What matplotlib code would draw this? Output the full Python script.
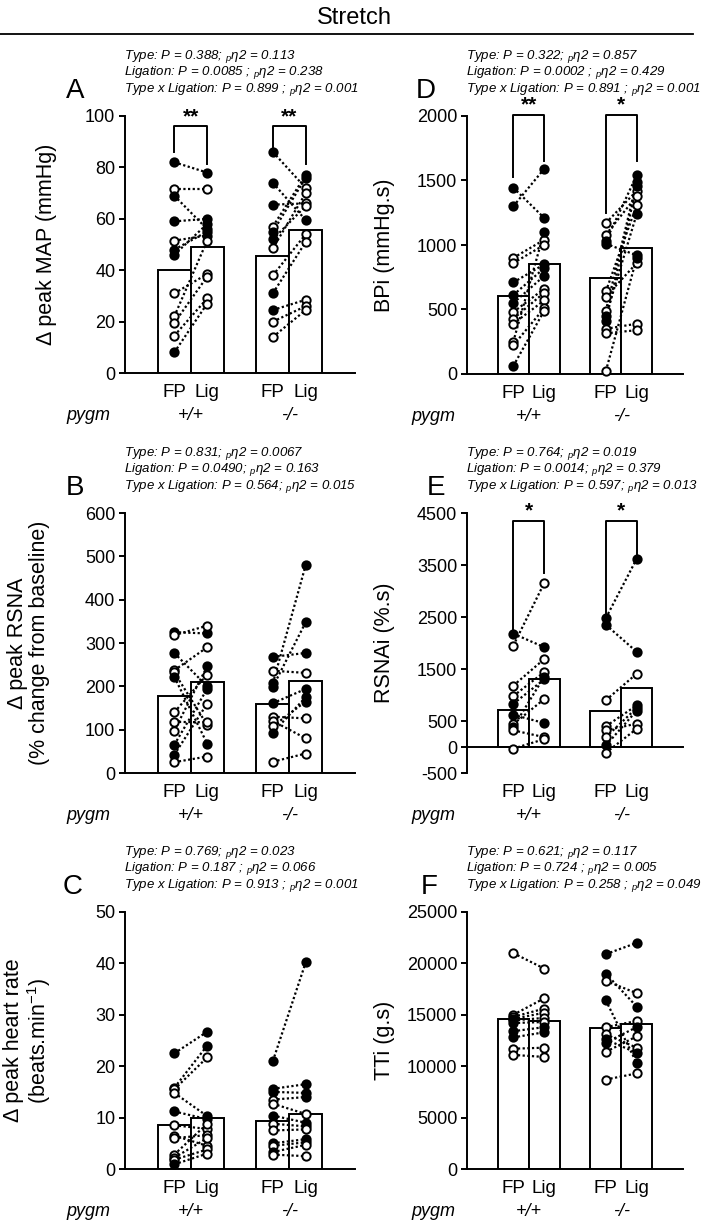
import numpy as np
import matplotlib
matplotlib.use('Agg')
import matplotlib.pyplot as plt
from matplotlib.lines import Line2D

plt.rcParams['font.family'] = ['Liberation Sans', 'DejaVu Sans']
plt.rcParams['mathtext.fontset'] = 'custom'
plt.rcParams['mathtext.rm'] = 'Liberation Sans'
plt.rcParams['mathtext.it'] = 'Liberation Sans:italic'
plt.rcParams['axes.unicode_minus'] = False

# groups on the x axis
groups = ['FP', 'Lig', 'FP', 'Lig']
genotypes = ['+/+', '-/-']

# ---- A : delta peak MAP (mmHg)
a_means = [40, 49, 45.5, 55.5]
a_wt_fp = [82, 71.5, 69, 59, 51.5, 48, 46, 31, 22, 19.5, 14.5, 8]
a_wt_fp_f = [1, 0, 1, 1, 0, 1, 1, 0, 0, 0, 0, 1]
a_wt_lig = [78, 71.5, 56, 60, 53.5, 55, 58, 38.5, 51.5, 37.5, 29, 27]
a_wt_lig_f = [1, 0, 1, 1, 1, 1, 1, 0, 0, 0, 0, 0]
a_ko_fp = [86, 74, 65.5, 57, 55, 52, 48.5, 38, 31, 24.5, 20, 14]
a_ko_fp_f = [1, 1, 1, 0, 1, 1, 0, 0, 1, 1, 0, 0]
a_ko_lig = [72, 59.5, 66, 77, 76, 65, 70, 54, 51, 28.5, 26, 24.5]
a_ko_lig_f = [0, 1, 0, 1, 1, 0, 0, 0, 0, 0, 0, 0]

# ---- B : delta peak RSNA (% change from baseline)
b_means = [178, 210, 159, 213]
b_wt_fp = [325, 318, 277, 237, 232, 222, 140, 118, 98, 65, 42, 25]
b_wt_fp_f = [1, 0, 1, 0, 0, 1, 0, 0, 0, 1, 1, 0]
b_wt_lig = [322, 340, 200, 290, 111, 68, 227, 117, 246, 194, 160, 38]
b_wt_lig_f = [1, 0, 1, 0, 0, 1, 0, 0, 1, 1, 0, 0]
b_ko_fp = [268, 236, 207, 199, 161, 130, 120, 108, 93, 26]
b_ko_fp_f = [1, 0, 1, 1, 1, 0, 0, 0, 1, 0]
b_ko_lig = [277, 231, 480, 348, 194, 126, 80, 165, 175, 45]
b_ko_lig_f = [1, 0, 1, 1, 1, 0, 0, 1, 1, 0]

# ---- C : delta peak heart rate
c_means = [8.6, 9.9, 9.25, 10.7]
c_wt_fp = [22.5, 15.8, 15.5, 14.8, 11.2, 8.5, 6.5, 6.0, 2.8, 2.2, 1.8, 0.9]
c_wt_fp_f = [1, 1, 0, 0, 1, 0, 0, 0, 0, 0, 0, 1]
c_wt_lig = [26.7, 24, 21.7, 10.3, 9.7, 7.8, 4.5, 6.6, 8.8, 6.0, 3.8, 3.0]
c_wt_lig_f = [1, 1, 0, 1, 1, 0, 0, 0, 0, 0, 0, 0]
c_ko_fp = [21, 15.6, 15, 13.5, 12.7, 10.4, 8.8, 7.5, 5, 4.5, 3.3, 2.8]
c_ko_fp_f = [1, 1, 1, 0, 0, 1, 0, 0, 1, 0, 1, 0]
c_ko_lig = [40.2, 16.5, 14.8, 14, 10.7, 9, 8.3, 7.7, 5.8, 5.2, 4.7, 2.5]
c_ko_lig_f = [1, 1, 1, 1, 0, 1, 1, 0, 1, 1, 0, 0]

# ---- D : BPi (mmHg.s)
d_means = [603, 851, 744, 980]
d_wt_fp = [1445, 1300, 900, 860, 710, 612, 550, 480, 428, 390, 250, 222, 62]
d_wt_fp_f = [1, 1, 0, 0, 1, 1, 1, 0, 0, 0, 0, 0, 1]
d_wt_lig = [1210, 1590, 1040, 1000, 850, 820, 760, 660, 630, 570, 1100, 510, 490]
d_wt_lig_f = [1, 1, 0, 0, 1, 1, 1, 0, 0, 0, 1, 0, 0]
d_ko_fp = [1170, 1080, 1030, 1010, 640, 600, 490, 450, 410, 350, 315, 23]
d_ko_fp_f = [0, 0, 1, 1, 0, 0, 0, 1, 1, 0, 0, 0]
d_ko_lig = [1420, 1380, 1540, 920, 1310, 860, 1490, 1240, 1460, 390, 340, 900]
d_ko_lig_f = [0, 0, 1, 1, 0, 0, 1, 1, 1, 0, 0, 1]

# ---- E : RSNAi (%.s)
e_means = [710, 1300, 690, 1130]
e_wt_fp = [2180, 1950, 1180, 980, 830, 620, 440, 380, 320, -30]
e_wt_fp_f = [1, 0, 0, 0, 1, 1, 0, 1, 0, 0]
e_wt_lig = [1920, 3150, 1690, 1440, 1300, 460, 920, 1350, 190, 150]
e_wt_lig_f = [1, 0, 0, 0, 1, 1, 0, 1, 0, 0]
e_ko_fp = [2480, 2350, 900, 400, 320, 190, 30, -110]
e_ko_fp_f = [1, 1, 0, 0, 0, 0, 1, 0]
e_ko_lig = [3620, 1830, 1410, 800, 450, 750, 700, 350]
e_ko_lig_f = [1, 1, 0, 1, 0, 1, 1, 0]

# ---- F : TTi (g.s)
f_means = [14550, 14360, 13740, 14130]
f_wt_fp = [21000, 15000, 14800, 14600, 14450, 14200, 13400, 12800, 11700, 11100]
f_wt_fp_f = [0, 0, 0, 0, 1, 1, 1, 1, 0, 0]
f_wt_lig = [19500, 16600, 15600, 15200, 14700, 14300, 13800, 13300, 11800, 10900]
f_wt_lig_f = [0, 0, 0, 0, 0, 0, 1, 1, 0, 0]
f_ko_fp = [20900, 19000, 18300, 16400, 13800, 13100, 12600, 12300, 11400, 8700]
f_ko_fp_f = [1, 1, 0, 1, 0, 0, 1, 1, 0, 0]
f_ko_lig = [22000, 15800, 17100, 10300, 14400, 11800, 11300, 13800, 12900, 9300]
f_ko_lig_f = [1, 1, 0, 1, 0, 0, 1, 1, 0, 0]

stats = {
    'A': ['Type: P = 0.388; $_p$η2 = 0.113', 'Ligation: P = 0.0085 ; $_p$η2 = 0.238',
          'Type x Ligation: P = 0.899 ; $_p$η2 = 0.001'],
    'B': ['Type: P = 0.831; $_p$η2 = 0.0067', 'Ligation: P = 0.0490; $_p$η2 = 0.163',
          'Type x Ligation: P = 0.564; $_p$η2 = 0.015'],
    'C': ['Type: P = 0.769; $_p$η2 = 0.023', 'Ligation: P = 0.187 ; $_p$η2 = 0.066',
          'Type x Ligation: P = 0.913 ; $_p$η2 = 0.001'],
    'D': ['Type: P = 0.322; $_p$η2 = 0.857', 'Ligation: P = 0.0002 ; $_p$η2 = 0.429',
          'Type x Ligation: P = 0.891 ; $_p$η2 = 0.001'],
    'E': ['Type: P = 0.764; $_p$η2 = 0.019', 'Ligation: P = 0.0014; $_p$η2 = 0.379',
          'Type x Ligation: P = 0.597; $_p$η2 = 0.013'],
    'F': ['Type: P = 0.621; $_p$η2 = 0.117', 'Ligation: P = 0.724 ; $_p$η2 = 0.005',
          'Type x Ligation: P = 0.258 ; $_p$η2 = 0.049'],
}

x_pos = [1.5, 2.5, 4.5, 5.5]
W, H = 709, 1222
fig = plt.figure(figsize=(W / 100, H / 100), dpi=100)


def px_axes(left, right, top, bottom):
    return fig.add_axes([left / W, 1 - bottom / H, (right - left) / W, (bottom - top) / H])


def draw_panel(ax, letter, means, wt, ko, ylim, yticks, ylabel, lab_x, letter_dx, spine_zero=False):
    ax.bar(x_pos, means, width=1.0, color='white', edgecolor='black', linewidth=1.4, zorder=1)
    for (x0, x1), (fp, fpf, lig, ligf) in zip([(x_pos[0], x_pos[1]), (x_pos[2], x_pos[3])], [wt, ko]):
        for i in range(len(fp)):
            ax.plot([x0, x1], [fp[i], lig[i]], ls=(0, (1, 1.1)), color='k', lw=1.6, zorder=2)
        for x, vals, fills in ((x0, fp, fpf), (x1, lig, ligf)):
            for v, f in zip(vals, fills):
                ax.plot(x, v, 'o', ms=6, mec='k', mew=1.4, mfc='k' if f else 'white',
                        zorder=3, clip_on=False)
    ax.set_xlim(0, 7)
    ax.set_ylim(*ylim)
    ax.set_yticks(yticks)
    ax.set_xticks([])
    ax.tick_params(axis='y', direction='out', length=4, width=1.4, labelsize=13, pad=3)
    for s in ['top', 'right']:
        ax.spines[s].set_visible(False)
    for s in ['left', 'bottom']:
        ax.spines[s].set_linewidth(1.4)
    if spine_zero:
        ax.spines['bottom'].set_position(('data', 0))
    ax.text(lab_x, 0.5, ylabel, transform=ax.transAxes, rotation=90, ha='center', va='center',
            fontsize=15.5, multialignment='center', linespacing=1.05)
    # x category labels
    for x, g in zip(x_pos, groups):
        ax.annotate(g, xy=(x, 0), xycoords=('data', 'axes fraction'), xytext=(0, -13.7),
                    textcoords='offset points', ha='center', va='center', fontsize=13.5)
    ax.annotate('pygm', xy=(-1.1, 0), xycoords=('data', 'axes fraction'), xytext=(0, -30.5),
                textcoords='offset points', ha='center', va='center', fontsize=13, style='italic')
    for x, g in zip([2.0, 5.0], genotypes):
        ax.annotate(g, xy=(x, 0), xycoords=('data', 'axes fraction'), xytext=(0, -30.5),
                    textcoords='offset points', ha='center', va='center', fontsize=13, style='italic')
    # panel letter and statistics
    ax.annotate(letter, xy=(0, 1), xycoords='axes fraction', xytext=(letter_dx, 18),
                textcoords='offset points', ha='center', va='center', fontsize=20)
    for k, line in enumerate(stats[letter]):
        ax.annotate(line, xy=(0, 1), xycoords='axes fraction', xytext=(-1, 43 - 12 * k),
                    textcoords='offset points', ha='left', va='center', fontsize=9.5, style='italic')


def bracket(ax, x0, x1, top, left_bot, right_bot, star, fs=15):
    ax.plot([x0, x0, x1, x1], [left_bot, top, top, right_bot], color='k', lw=1.4, clip_on=False, zorder=4)
    ax.text((x0 + x1) / 2, top, star, ha='center', va='bottom', fontsize=fs, fontweight='bold')


axA = px_axes(125, 355, 116, 373)
axB = px_axes(125, 355, 513, 773)
axC = px_axes(125, 355, 912, 1169)
axD = px_axes(467, 683, 116, 374)
axE = px_axes(467, 683, 513, 773)
axF = px_axes(467, 683, 912, 1169)

draw_panel(axA, 'A', a_means, (a_wt_fp, a_wt_fp_f, a_wt_lig, a_wt_lig_f),
           (a_ko_fp, a_ko_fp_f, a_ko_lig, a_ko_lig_f), (0, 100), range(0, 101, 20),
           'Δ peak MAP (mmHg)', -0.343, -36)
draw_panel(axB, 'B', b_means, (b_wt_fp, b_wt_fp_f, b_wt_lig, b_wt_lig_f),
           (b_ko_fp, b_ko_fp_f, b_ko_lig, b_ko_lig_f), (0, 600), range(0, 601, 100),
           'Δ peak RSNA\n(% change from baseline)', -0.42, -36)
draw_panel(axC, 'C', c_means, (c_wt_fp, c_wt_fp_f, c_wt_lig, c_wt_lig_f),
           (c_ko_fp, c_ko_fp_f, c_ko_lig, c_ko_lig_f), (0, 50), range(0, 51, 10),
           'Δ peak heart rate\n(beats.min$^{-1}$)', -0.42, -38)
draw_panel(axD, 'D', d_means, (d_wt_fp, d_wt_fp_f, d_wt_lig, d_wt_lig_f),
           (d_ko_fp, d_ko_fp_f, d_ko_lig, d_ko_lig_f), (0, 2000), range(0, 2001, 500),
           'BPi (mmHg.s)', -0.384, -30)
draw_panel(axE, 'E', e_means, (e_wt_fp, e_wt_fp_f, e_wt_lig, e_wt_lig_f),
           (e_ko_fp, e_ko_fp_f, e_ko_lig, e_ko_lig_f), (-500, 4500),
           [-500, 0, 500, 1500, 2500, 3500, 4500], 'RSNAi (%.s)', -0.384, -22, spine_zero=True)
draw_panel(axF, 'F', f_means, (f_wt_fp, f_wt_fp_f, f_wt_lig, f_wt_lig_f),
           (f_ko_fp, f_ko_fp_f, f_ko_lig, f_ko_lig_f), (0, 25000), range(0, 25001, 5000),
           'TTi (g.s)', -0.384, -27)

bracket(axA, 1.5, 2.5, 96, 86, 81.5, '**')
bracket(axA, 4.5, 5.5, 96, 88, 81.5, '**')
bracket(axD, 1.5, 2.5, 2010, 1530, 1650, '**')
bracket(axD, 4.5, 5.5, 2010, 1250, 1650, '*')
bracket(axE, 1.5, 2.5, 4350, 2250, 3350, '*')
bracket(axE, 4.5, 5.5, 4350, 2550, 3700, '*')

fig.text(0.5, 1 - 18 / H, 'Stretch', ha='center', va='center', fontsize=17)
fig.add_artist(Line2D([0, 693 / W], [1 - 34 / H, 1 - 34 / H], color='k', lw=1.3))

fig.savefig('out.png', dpi=100)
